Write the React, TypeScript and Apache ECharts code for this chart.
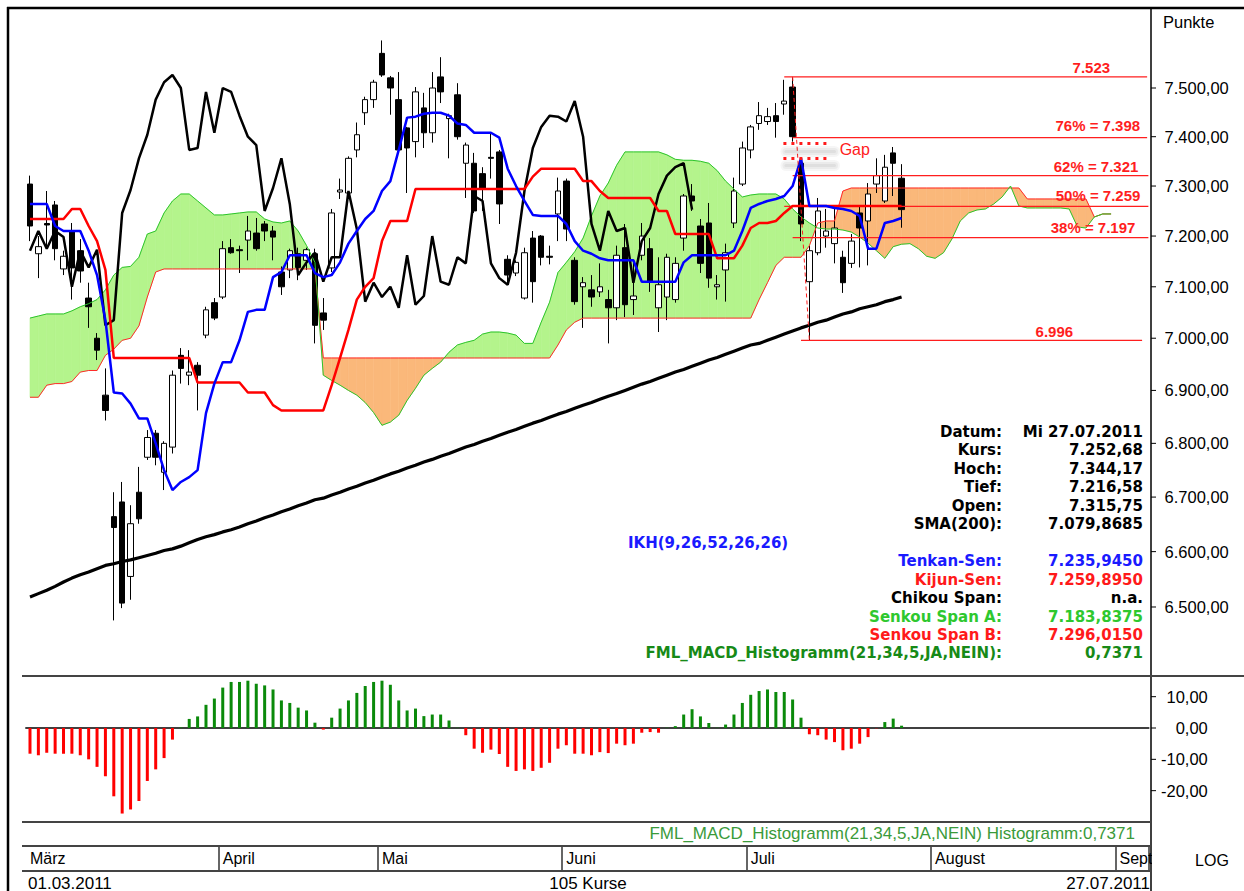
import React, { useEffect, useRef } from 'react';
import * as echarts from 'echarts';

// ---------------- data ----------------
const firstDate = '01.03.2011';
const lastDate = '27.07.2011';
const lastWeekday = 'Mi';

const opens = [
  7304, 7165, 7225, 7262, 7135, 7210, 7171, 7078, 7000, 6891,
  6664, 6691, 6555, 6709, 6774, 6819, 6746, 6793, 6967, 6929,
  6948, 7006, 7069, 7080, 7177, 7173, 7192, 7206, 7224, 7210,
  7129, 7133, 7165, 7152, 7165, 7049, 7137, 7288, 7286, 7373,
  7449, 7476, 7572, 7521, 7476, 7418, 7390, 7459, 7408, 7523,
  7437, 7486, 7346, 7346, 7325, 7358, 7369, 7154, 7127, 7078,
  7196, 7200, 7160, 7244, 7310, 7152, 7100, 7094, 7090, 7075,
  7059, 7177, 7075, 7162, 7175, 7059, 7080, 7075, 7196, 7280,
  7220, 7226, 7100, 7133, 7226, 7304, 7373, 7427, 7431, 7443,
  7467, 7502, 7346, 7110, 7167, 7200, 7185, 7158, 7146, 7246,
  7230, 7304, 7270, 7367, 7315.75,
];
const closes = [
  7220, 7179, 7222, 7175, 7160, 7137, 7131, 7061, 6977, 6862,
  6644, 6507, 6651, 6660, 6811, 6774, 6800, 6929, 6942, 6935,
  6929, 7055, 7039, 7175, 7167, 7171, 7210, 7175, 7210, 7198,
  7100, 7171, 7138, 7173, 7025, 7035, 7246, 7292, 7356, 7404,
  7476, 7512, 7527, 7500, 7373, 7377, 7492, 7408, 7500, 7492,
  7443, 7400, 7383, 7250, 7296, 7356, 7264, 7123, 7148, 7167,
  7110, 7158, 7158, 7290, 7214, 7071, 7108, 7080, 7100, 7059,
  7162, 7065, 7082, 7200, 7110, 7104, 7158, 7146, 7280, 7270,
  7146, 7117, 7104, 7167, 7290, 7377, 7420, 7443, 7441, 7431,
  7473, 7400, 7224, 7171, 7250, 7210, 7216, 7108, 7190, 7216,
  7284, 7321, 7338, 7346, 7252.68,
];
const lows = [
  7190, 7117, 7177, 7152, 7123, 7075, 7108, 7020, 6958, 6843,
  6476, 6498, 6513, 6651, 6769, 6759, 6713, 6781, 6913, 6910,
  6862, 7000, 7035, 7076, 7165, 7127, 7152, 7171, 7190, 7152,
  7084, 7117, 7113, 7133, 6990, 7016, 7129, 7274, 7282, 7358,
  7424, 7459, 7523, 7445, 7370, 7286, 7358, 7377, 7388, 7469,
  7356, 7394, 7276, 7246, 7250, 7315, 7224, 7104, 7121, 7075,
  7069, 7142, 7144, 7190, 7190, 7065, 7020, 7061, 7080, 6990,
  7035, 7041, 7045, 7152, 7090, 7012, 7035, 7069, 7171, 7250,
  7127, 7098, 7075, 7071, 7216, 7300, 7356, 7414, 7424, 7398,
  7445, 7390, 7190, 6996, 7162, 7177, 7146, 7088, 7137, 7138,
  7142, 7286, 7266, 7280, 7216.58,
];
const highs = [
  7321, 7200, 7290, 7270, 7171, 7226, 7194, 7108, 7010, 6942,
  6709, 6728, 6685, 6756, 6825, 6825, 6804, 6938, 6981, 6977,
  6954, 7061, 7078, 7190, 7194, 7181, 7240, 7236, 7230, 7220,
  7140, 7175, 7177, 7177, 7175, 7078, 7254, 7315, 7360, 7429,
  7482, 7517, 7599, 7525, 7533, 7420, 7502, 7490, 7533, 7564,
  7447, 7510, 7388, 7367, 7338, 7408, 7373, 7162, 7152, 7177,
  7210, 7202, 7181, 7317, 7315, 7158, 7119, 7123, 7146, 7094,
  7181, 7224, 7152, 7226, 7196, 7158, 7165, 7158, 7284, 7304,
  7234, 7266, 7123, 7185, 7317, 7390, 7424, 7471, 7459, 7469,
  7517, 7523, 7352, 7181, 7276, 7254, 7256, 7171, 7204, 7260,
  7306, 7356, 7363, 7379, 7344.17,
];
const tenkanSen = [
  7264, 7264, 7264, 7220, 7210, 7210, 7210, 7171, 7123, 7035,
  6896, 6894, 6875, 6847, 6847, 6800, 6750, 6713, 6728, 6737,
  6750, 6857, 6913, 6954, 6954, 6996, 7051, 7055, 7055, 7119,
  7129, 7162, 7162, 7162, 7127, 7119, 7123, 7148, 7185, 7210,
  7234, 7250, 7290, 7310, 7373, 7439, 7441, 7447, 7449, 7449,
  7443, 7427, 7424, 7408, 7408, 7408, 7398, 7335, 7300, 7270,
  7242, 7240, 7240, 7240, 7224, 7190, 7171, 7165, 7156, 7152,
  7152, 7152, 7152, 7110, 7110, 7110, 7110, 7110, 7148, 7162,
  7162, 7162, 7162, 7162, 7171, 7210, 7256, 7264, 7270, 7274,
  7280, 7300, 7356, 7260, 7260, 7260, 7256, 7254, 7250, 7240,
  7175, 7175, 7226, 7230, 7235.945,
];
const kijunSen = [
  7234, 7234, 7234, 7234, 7234, 7254, 7254, 7220, 7190, 7133,
  6962, 6962, 6962, 6962, 6962, 6962, 6962, 6962, 6962, 6962,
  6915, 6915, 6915, 6915, 6915, 6915, 6896, 6896, 6896, 6872,
  6862, 6862, 6862, 6862, 6862, 6862, 6910, 6962, 7016, 7075,
  7100, 7117, 7190, 7230, 7230, 7230, 7294, 7294, 7294, 7294,
  7294, 7294, 7294, 7294, 7294, 7294, 7294, 7294, 7294, 7294,
  7319, 7335, 7335, 7335, 7335, 7335, 7310, 7310, 7290, 7276,
  7276, 7276, 7276, 7276, 7276, 7250, 7250, 7204, 7204, 7204,
  7204, 7204, 7156, 7156, 7156, 7181, 7216, 7226, 7226, 7230,
  7246, 7259.9, 7259.9, 7259.9, 7259.9, 7259.9, 7259.9, 7259.9, 7259.9, 7259.9,
  7259.9, 7259.9, 7259.9, 7259.9, 7259.895,
];
// Senkou spans are already displaced into the future (index 0 .. 129)
const senkouSpanA = [
  7039, 7043, 7047, 7047, 7047, 7053, 7061, 7067, 7075, 7094,
  7123, 7138, 7140, 7158, 7204, 7210, 7246, 7270, 7284, 7284,
  7270, 7256, 7242, 7242, 7244, 7246, 7248, 7248, 7234, 7228,
  7226, 7230, 7210, 7181, 7148, 6929, 6919, 6910, 6900, 6891,
  6877, 6858, 6834, 6840, 6853, 6881, 6904, 6929, 6942, 6954,
  6973, 6987, 6992, 6996, 7008, 7012, 7012, 7010, 7006, 6990,
  6990, 7031, 7070, 7128, 7148, 7169, 7196, 7240, 7280, 7306,
  7342, 7369, 7369, 7369, 7369, 7369, 7363, 7354, 7352, 7352,
  7350, 7346, 7331, 7310, 7294, 7278, 7282, 7284, 7284, 7284,
  7274, 7254, 7238, 7226, 7216, 7214, 7214, 7212, 7208, 7198,
  7186, 7171, 7156, 7179, 7183.8375, 7185, 7175, 7160, 7156, 7167,
  7194, 7230, 7246, 7252, 7254, 7264, 7278, 7300, 7260, 7256,
  7256, 7256, 7256, 7256, 7254, 7218, 7216, 7238, 7244, 7244,
];
const senkouSpanB = [
  6887, 6887, 6910, 6913, 6913, 6917, 6935, 6938, 6938, 6967,
  6979, 6996, 7000, 7024, 7080, 7129, 7135, 7135, 7135, 7135,
  7135, 7135, 7135, 7135, 7135, 7135, 7135, 7135, 7135, 7135,
  7135, 7135, 7135, 7135, 7135, 6962, 6962, 6962, 6962, 6962,
  6962, 6962, 6962, 6962, 6962, 6962, 6962, 6962, 6962, 6962,
  6962, 6962, 6962, 6962, 6962, 6962, 6962, 6962, 6962, 6962,
  6962, 6962, 6962, 6987, 7016, 7031, 7039, 7039, 7039, 7039,
  7039, 7039, 7039, 7039, 7039, 7039, 7039, 7039, 7039, 7039,
  7039, 7039, 7039, 7039, 7039, 7039, 7039, 7075, 7108, 7142,
  7158, 7158, 7158, 7181, 7226, 7230, 7230, 7290, 7296.015, 7296.015,
  7296.015, 7296.015, 7296.015, 7296.015, 7296.015, 7296.015, 7296.015, 7296.015, 7296.015, 7296.015,
  7296.015, 7296.015, 7296.015, 7296.015, 7296.015, 7296.015, 7296.015, 7296.015, 7296.015, 7274,
  7274, 7274, 7274, 7274, 7274, 7274, 7274, 7238, 7244, 7244,
];
const sma200 = [
  6518, 6524, 6530, 6537, 6545, 6552, 6558, 6563, 6569, 6575,
  6578, 6582, 6585, 6589, 6593, 6597, 6602, 6605, 6610, 6616,
  6622, 6627, 6631, 6636, 6640, 6645, 6651, 6656, 6662, 6667,
  6673, 6678, 6684, 6689, 6695, 6698, 6704, 6709, 6715, 6720,
  6726, 6731, 6737, 6743, 6748, 6754, 6759, 6765, 6770, 6776,
  6781, 6787, 6793, 6798, 6804, 6809, 6815, 6821, 6826, 6832,
  6838, 6843, 6849, 6855, 6860, 6866, 6872, 6877, 6883, 6889,
  6894, 6900, 6906, 6912, 6917, 6923, 6929, 6935, 6940, 6946,
  6952, 6958, 6963, 6969, 6975, 6981, 6987, 6990, 6996, 7002,
  7008, 7014, 7020, 7025, 7031, 7035, 7041, 7047, 7051, 7057,
  7061, 7065, 7071, 7075, 7079.8685,
];
const macdHist = [
  -8.2, -8.7, -7.9, -8.2, -8.2, -8.2, -8.7, -10.0, -12.4, -15.4,
  -21.8, -27.3, -26.0, -23.3, -16.9, -13.2, -9.6, -3.7, 0.2, 2.9,
  3.7, 7.4, 9.4, 12.9, 14.7, 14.7, 15.1, 14.1, 13.6, 12.3,
  8.8, 8.0, 6.5, 5.6, 1.7, -0.5, 3.3, 6.2, 8.8, 11.2,
  13.4, 14.7, 15.1, 13.8, 8.8, 5.6, 6.2, 3.8, 4.3, 4.3,
  2.4, 0.1, -2.3, -6.6, -7.9, -6.9, -8.3, -12.4, -13.7, -13.2,
  -13.7, -12.7, -11.1, -6.6, -5.5, -8.2, -8.2, -8.7, -7.7, -8.0,
  -5.0, -5.5, -5.0, -1.5, -1.3, -1.5, 0.1, 0.6, 4.3, 6.0,
  3.7, 1.6, 0.1, 1.1, 4.3, 8.0, 10.6, 11.8, 12.3, 11.5,
  11.5, 9.1, 3.3, -2.0, -2.3, -3.7, -4.5, -7.1, -6.6, -5.0,
  -2.9, -0.1, 1.9, 3.0, 0.7371,
];
const CHIKOU_SHIFT = 25;
const TOTAL_SLOTS = 134;

const monthTicks = [
  { label: 'März', index: 0 },
  { label: 'April', index: 23 },
  { label: 'Mai', index: 42 },
  { label: 'Juni', index: 64 },
  { label: 'Juli', index: 86 },
  { label: 'August', index: 108 },
  { label: 'September', index: 130 },
];
const priceTicks = [6500, 6600, 6700, 6800, 6900, 7000, 7100, 7200, 7300, 7400, 7500];
const priceMin = 6377.5;
const priceMax = 7667.3;
const macdTicks = [-20, -10, 0, 10];

const fibLevels = [
  { text: '7.523', value: 7523, from: 90, to: 133.3 },
  { text: '76% = 7.398', value: 7398, from: 91, to: 133.3 },
  { text: '62% = 7.321', value: 7321, from: 91, to: 133.45 },
  { text: '50% = 7.259', value: 7259, from: 90, to: 133.45 },
  { text: '38% = 7.197', value: 7197, from: 91, to: 133.45 },
  { text: '6.996', value: 6996, from: 92, to: 132.7 },
];
const fibLabelDistance = [[37, 2], [7, 5], [10, 2], [8, 3], [13, 3], [69, 1]];
const gapLevels = [7387, 7357];
const gapShadowLevels = [7371, 7341];
const gapFrom = 89.9;
const gapTo = 95.5;
const gapShadowTo = 96.0;
const gapLabelValue = 7373;

// ---------------- helpers ----------------
const L = Math.log;
function de(v: number, d: number): string {
  const neg = v < 0;
  const s = Math.abs(v).toFixed(d);
  const parts = s.split('.');
  const grouped = parts[0].replace(/\B(?=(\d{3})+(?!\d))/g, '.');
  return (neg ? '-' : '') + grouped + (parts[1] !== undefined ? ',' + parts[1] : '');
}

const GREEN_FILL = '#b4f48c';
const ORANGE_FILL = '#fab87a';
const FIB_RED = '#ff1e1e';
const SANS = '"Liberation Sans", Arial, sans-serif';
const INFO_FONT = '"DejaVu Sans", Verdana, sans-serif';

function buildGraphics(): any[] {
  const last = closes.length - 1;
  const infoRows = [
    { label: 'Datum:', value: `${lastWeekday} ${lastDate}`, color: '#000' },
    { label: 'Kurs:', value: de(closes[last], 2), color: '#000' },
    { label: 'Hoch:', value: de(highs[last], 2), color: '#000' },
    { label: 'Tief:', value: de(lows[last], 2), color: '#000' },
    { label: 'Open:', value: de(opens[last], 2), color: '#000' },
    { label: 'SMA(200):', value: de(sma200[last], 4), color: '#000' },
    { label: '', value: '', color: '#1a1aff', left: 'IKH(9,26,52,26,26)' },
    { label: 'Tenkan-Sen:', value: de(tenkanSen[last], 4), color: '#1a1aff' },
    { label: 'Kijun-Sen:', value: de(kijunSen[last], 4), color: '#ff1a1a' },
    { label: 'Chikou Span:', value: 'n.a.', color: '#000' },
    { label: 'Senkou Span A:', value: de(senkouSpanA[last], 4), color: '#2ec82e' },
    { label: 'Senkou Span B:', value: de(senkouSpanB[last], 4), color: '#ff1a1a' },
    { label: 'FML_MACD_Histogramm(21,34,5,JA,NEIN):', value: de(macdHist[last], 4), color: '#178a17' },
  ];

  const graphics: any[] = [];
  const hline = (x1: number, y: number, x2: number, w: number, c: string) =>
    graphics.push({ type: 'line', z: 40, shape: { x1, y1: y, x2, y2: y }, style: { stroke: c, lineWidth: w } });
  const vline = (x: number, y1: number, y2: number, w: number, c: string) =>
    graphics.push({ type: 'line', z: 40, shape: { x1: x, y1, x2: x, y2 }, style: { stroke: c, lineWidth: w } });
  hline(7, 8, 1244, 2.5, '#000');
  vline(8, 7, 891, 2.5, '#000');
  vline(1151, 8, 891, 1.5, '#000');
  hline(22, 676, 1244, 2, '#444');
  hline(22, 822, 1151, 2, '#444');
  hline(22, 846, 1151, 2, '#444');
  hline(22, 871, 1151, 2, '#444');
  graphics.push({ type: 'rect', z: 50, shape: { x: 1152, y: 847, width: 92, height: 23 }, style: { fill: '#fff' } });

  const txt = (text: string, x: number, y: number, align: string, font: string, fill: string) =>
    graphics.push({
      type: 'text',
      z: 60,
      style: { text, x, y, font, fill, align, textAlign: align, verticalAlign: 'middle', textVerticalAlign: 'middle' },
    });
  txt('Punkte', 1163, 22, 'left', `16.5px ${SANS}`, '#000');
  txt('LOG', 1212, 860, 'center', `16px ${SANS}`, '#000');
  txt(firstDate, 28, 883, 'left', `17px ${SANS}`, '#000');
  txt(`${closes.length} Kurse`, 588, 883, 'center', `17px ${SANS}`, '#000');
  txt(lastDate, 1150, 883, 'right', `17px ${SANS}`, '#000');
  txt(`FML_MACD_Histogramm(21,34,5,JA,NEIN) Histogramm:${de(macdHist[last], 4)}`, 1135, 833, 'right', `17px ${SANS}`, '#3a9a3a');
  infoRows.forEach((r: any, k) => {
    const y = 432 + k * 18.45;
    const f = `bold 15px ${INFO_FONT}`;
    if (r.left) txt(r.left, 628, y, 'left', f, r.color);
    if (r.label) txt(r.label, 1002, y, 'right', f, r.color);
    if (r.value) txt(r.value, 1143, y, 'right', f, r.color);
  });
  return graphics;
}

function buildOption(): any {
  const cats = Array.from({ length: TOTAL_SLOTS }, (_, i) => String(i));
  const tickSet = new Set(monthTicks.filter((m) => m.index > 0).map((m) => m.index));
  const labelMap = new Map(monthTicks.map((m) => [m.index, m.label]));

  const lineData = (arr: number[]) => arr.map((v, i) => [i, L(v)]);
  const chikou = closes.slice(CHIKOU_SHIFT).map((v, j) => [j, L(v)]);

  const cloudData: number[][] = [];
  for (let i = 0; i < senkouSpanA.length - 1; i++) {
    cloudData.push([i, L(senkouSpanA[i]), L(senkouSpanB[i]), L(senkouSpanA[i + 1]), L(senkouSpanB[i + 1])]);
  }

  const GL = 25.8;
  const GW = 1123;

  // labels of the Fibonacci levels (the red lines themselves are line series below)
  const fibMarkLines: any[] = fibLevels.map((f, k) => [
    {
      coord: [f.from, L(f.value)],
      lineStyle: { color: 'rgba(255,255,255,0)', width: 1 },
      label: {
        show: true,
        position: 'insideEndTop',
        distance: fibLabelDistance[k],
        formatter: f.text,
        color: FIB_RED,
        fontWeight: 'bold',
        fontSize: 15,
        fontFamily: SANS,
      },
    },
    { coord: [f.to, L(f.value)] },
  ]);
  const hi = fibLevels[0];
  const lo = fibLevels[fibLevels.length - 1];
  fibMarkLines.push([
    { coord: [hi.from + 1, L(hi.value)], lineStyle: { color: FIB_RED, width: 1, type: [4, 3] }, label: { show: false } },
    { coord: [lo.from + 1, L(lo.value)] },
  ]);
  const shadowLayers = [
    { width: 11, alpha: 0.035 },
    { width: 7, alpha: 0.045 },
    { width: 3, alpha: 0.05 },
  ];
  gapShadowLevels.forEach((g) => {
    shadowLayers.forEach((s) => {
      fibMarkLines.push([
        {
          coord: [gapFrom + 0.3, L(g)],
          lineStyle: { color: `rgba(0,0,0,${s.alpha})`, width: s.width, type: 'solid', cap: 'round' },
          label: { show: false },
        },
        { coord: [gapShadowTo, L(g)] },
      ]);
    });
  });
  gapLevels.forEach((g) => {
    fibMarkLines.push([
      { coord: [gapFrom, L(g)], lineStyle: { color: '#ff1a1a', width: 3, type: [3, 5] }, label: { show: false } },
      { coord: [gapTo, L(g)] },
    ]);
  });

  const fibLineSeries = fibLevels.map((f) => ({
    type: 'line',
    name: f.text,
    xAxisIndex: 3,
    yAxisIndex: 0,
    silent: true,
    showSymbol: false,
    symbol: 'none',
    z: 3,
    data: [
      [f.from, L(f.value)],
      [f.to, L(f.value)],
    ],
    lineStyle: { color: FIB_RED, width: 1.2, opacity: 1 },
    itemStyle: { color: FIB_RED },
  }));

  const axisLabelStyle = { color: '#000', fontFamily: SANS };

  return {
    animation: false,
    backgroundColor: '#fff',
    textStyle: { fontFamily: SANS },
    grid: [
      { left: GL, top: 8, width: GW, height: 668 },
      { left: GL, top: 676, width: GW, height: 146 },
      { left: GL, top: 846, width: GW, height: 25 },
    ],
    xAxis: [
      { type: 'category', gridIndex: 0, data: cats, boundaryGap: true, show: false },
      {
        type: 'category',
        gridIndex: 1,
        data: cats,
        boundaryGap: true,
        axisLine: { show: true, onZero: true, lineStyle: { color: '#000', width: 1.5 } },
        axisTick: { show: false },
        axisLabel: { show: false },
        splitLine: { show: false },
      },
      {
        type: 'category',
        gridIndex: 2,
        data: cats,
        boundaryGap: true,
        position: 'bottom',
        axisLine: { show: false },
        axisTick: {
          show: true,
          inside: true,
          length: 25,
          interval: (i: number) => tickSet.has(i),
          lineStyle: { color: '#333', width: 1.5 },
        },
        axisLabel: {
          show: true,
          inside: true,
          interval: (i: number) => labelMap.has(i),
          formatter: (v: string) => labelMap.get(Number(v)) || '',
          align: 'left',
          margin: 5,
          fontSize: 16,
          ...axisLabelStyle,
        },
        splitLine: { show: false },
      },
      { type: 'value', gridIndex: 0, min: -0.5, max: TOTAL_SLOTS - 0.5, show: false },
    ],
    yAxis: [
      {
        type: 'value',
        gridIndex: 0,
        position: 'right',
        offset: 2,
        min: L(priceMin),
        max: L(priceMax),
        axisLine: { show: false },
        axisTick: { show: false },
        axisLabel: {
          customValues: priceTicks.map(L),
          formatter: (v: number) => de(Math.round(Math.exp(v)), 2),
          align: 'right',
          margin: 78,
          fontSize: 16.5,
          ...axisLabelStyle,
        },
        splitLine: { show: false },
      },
      {
        type: 'value',
        gridIndex: 1,
        position: 'right',
        offset: 2,
        min: -30,
        max: 16.6,
        axisLine: { show: false },
        axisTick: { show: false },
        axisLabel: {
          customValues: macdTicks,
          formatter: (v: number) => de(v, 2),
          align: 'right',
          margin: 57,
          fontSize: 16.5,
          ...axisLabelStyle,
        },
        splitLine: { show: false },
      },
      { type: 'value', gridIndex: 2, show: false },
    ],
    series: [
      {
        type: 'custom',
        name: 'Kumo',
        xAxisIndex: 3,
        yAxisIndex: 0,
        z: 1,
        silent: true,
        data: cloudData,
        encode: { x: 0, y: 1 },
        renderItem: (params: any, api: any) => {
          const i = api.value(0);
          const a0 = api.value(1), b0 = api.value(2), a1 = api.value(3), b1 = api.value(4);
          const pA0 = api.coord([i, a0]);
          const pB0 = api.coord([i, b0]);
          const pA1 = api.coord([i + 1, a1]);
          const pB1 = api.coord([i + 1, b1]);
          const d0 = a0 - b0;
          const d1 = a1 - b1;
          const col = (d: number) => (d >= 0 ? GREEN_FILL : ORANGE_FILL);
          const poly = (pts: number[][], c: string) => ({
            type: 'polygon',
            shape: { points: pts },
            style: { fill: c, stroke: c, lineWidth: 0.6 },
          });
          if (d0 * d1 >= 0) {
            return poly([pA0, pA1, pB1, pB0], col(d0 + d1));
          }
          const t = d0 / (d0 - d1);
          const px = [pA0[0] + t * (pA1[0] - pA0[0]), pA0[1] + t * (pA1[1] - pA0[1])];
          return {
            type: 'group',
            children: [poly([pA0, px, pB0], col(d0)), poly([px, pA1, pB1], col(d1))],
          };
        },
      },
      {
        type: 'line',
        name: 'Senkou Span B',
        xAxisIndex: 3,
        yAxisIndex: 0,
        data: lineData(senkouSpanB),
        showSymbol: false,
        lineStyle: { color: '#ff2a2a', width: 1 },
      },
      {
        type: 'line',
        name: 'Senkou Span A',
        xAxisIndex: 3,
        yAxisIndex: 0,
        data: lineData(senkouSpanA),
        showSymbol: false,
        lineStyle: { color: '#2cc42c', width: 1 },
      },
      {
        type: 'candlestick',
        name: 'Kurs',
        xAxisIndex: 0,
        yAxisIndex: 0,
        barWidth: 6,
        data: opens.map((o, i) => [L(o), L(closes[i]), L(lows[i]), L(highs[i])]),
        itemStyle: { color: '#fff', color0: '#000', borderColor: '#000', borderColor0: '#000', borderWidth: 1 },
      },
      ...fibLineSeries,
      {
        type: 'line',
        name: 'SMA(200)',
        xAxisIndex: 3,
        yAxisIndex: 0,
        data: lineData(sma200),
        showSymbol: false,
        lineStyle: { color: '#000', width: 3.2 },
      },
      {
        type: 'line',
        name: 'Chikou Span',
        xAxisIndex: 3,
        yAxisIndex: 0,
        data: chikou,
        showSymbol: false,
        lineStyle: { color: '#000', width: 2.5 },
      },
      {
        type: 'line',
        name: 'Kijun-Sen',
        xAxisIndex: 3,
        yAxisIndex: 0,
        data: lineData(kijunSen),
        showSymbol: false,
        lineStyle: { color: '#ff0000', width: 2.5 },
      },
      {
        type: 'line',
        name: 'Tenkan-Sen',
        xAxisIndex: 3,
        yAxisIndex: 0,
        data: lineData(tenkanSen),
        showSymbol: false,
        lineStyle: { color: '#0000ff', width: 2.5 },
      },
      {
        type: 'line',
        name: 'Fibonacci',
        xAxisIndex: 3,
        yAxisIndex: 0,
        data: [],
        showSymbol: false,
        color: FIB_RED,
        markLine: {
          symbol: ['none', 'none'],
          silent: true,
          animation: false,
          data: fibMarkLines,
        },
        markPoint: {
          silent: true,
          animation: false,
          data: [
            {
              coord: [gapTo + 0.1, L(gapLabelValue)],
              symbol: 'rect',
              symbolSize: [1, 1],
              itemStyle: { color: 'rgba(0,0,0,0)' },
              label: { show: true, position: 'right', distance: 8, formatter: 'Gap', color: '#ff2020', fontSize: 16, fontFamily: SANS },
            },
          ],
        },
      },
      {
        type: 'bar',
        name: 'MACD Histogramm',
        xAxisIndex: 1,
        yAxisIndex: 1,
        barWidth: 3,
        data: macdHist.map((v) => ({ value: v, itemStyle: { color: v >= 0 ? '#0a8a0a' : '#ff0000' } })),
      },
    ],
    graphic: { elements: buildGraphics() },
  };
}

export default function App() {
  const ref = useRef<HTMLDivElement>(null);
  useEffect(() => {
    if (!ref.current) return;
    const chart = echarts.init(ref.current, null, { renderer: 'svg' });
    chart.setOption(buildOption());
    // axis tick marks on the right of the axis line, placed through the axes' own scales
    const axisX = 1151;
    const ticks: any[] = [];
    priceTicks.forEach((v) => {
      const y = chart.convertToPixel({ yAxisIndex: 0 }, L(v)) as number;
      ticks.push({ type: 'line', z: 45, shape: { x1: axisX, y1: y, x2: axisX + 5, y2: y }, style: { stroke: '#000', lineWidth: 1 } });
    });
    macdTicks.forEach((v) => {
      const y = chart.convertToPixel({ yAxisIndex: 1 }, v) as number;
      ticks.push({ type: 'line', z: 45, shape: { x1: axisX, y1: y, x2: axisX + 5, y2: y }, style: { stroke: '#000', lineWidth: 1 } });
    });
    chart.setOption({ graphic: { elements: [...buildGraphics(), ...ticks] } });
    return () => chart.dispose();
  }, []);
  return (
    <div
      ref={ref}
      style={{ position: 'fixed', left: 0, top: 0, width: 1244, height: 891, background: '#fff' }}
    />
  );
}
